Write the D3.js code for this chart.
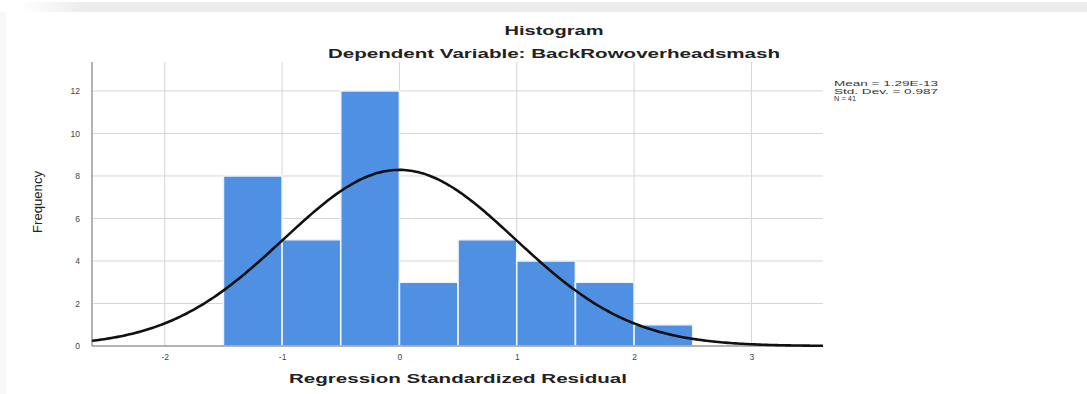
<!DOCTYPE html>
<html><head><meta charset="utf-8">
<script src="https://cdn.jsdelivr.net/npm/d3@7/dist/d3.min.js"></script>
<style>
html,body{margin:0;padding:0;background:#fff;}
svg{display:block;font-family:"Liberation Sans",Arial,sans-serif;}
</style></head>
<body><svg id="c" width="1087" height="394"></svg>
<script>
// ---- data ----
const binStarts = [-1.5, -1.0, -0.5, 0.0, 0.5, 1.0, 1.5, 2.0];
const binWidth = 0.5;
const frequencies = [8, 5, 12, 3, 5, 4, 3, 1];
const xTicks = [-2, -1, 0, 1, 2, 3];
const yTicks = [0, 2, 4, 6, 8, 10, 12];
const statLabels = ["Mean = 1.29E-13", "Std. Dev. = 0.987", "N = 41"];
const stats = {mean: 1.29e-13, sd: 0.987, n: 41};
const titleText = "Histogram";
const subtitleText = "Dependent Variable: BackRowoverheadsmash";
const xLabel = "Regression Standardized Residual";
const yLabel = "Frequency";

const svg = d3.select("#c");
svg.append("rect").attr("x",0).attr("y",0).attr("width",1087).attr("height",394).attr("fill","#fff");
const g0 = svg.append("defs").append("linearGradient").attr("id","bandg");
g0.append("stop").attr("offset","0").attr("stop-color","#fff");
g0.append("stop").attr("offset","0.06").attr("stop-color","#ececec");
g0.append("stop").attr("offset","1").attr("stop-color","#ececec");
svg.append("rect").attr("x",20).attr("y",2).attr("width",1067).attr("height",10).attr("fill","url(#bandg)");
svg.append("rect").attr("x",0).attr("y",12).attr("width",6).attr("height",382).attr("fill","#f7f7f7");

const L = 92, R = 823, T = 62, B = 346;
const x = d3.scaleLinear().domain([-2.62, 3.61]).range([L, R]);
const y = d3.scaleLinear().domain([0, 13.36]).range([B, T]);

// grid
const grid = svg.append("g");
grid.selectAll(".hg").data(yTicks.filter(d=>d>0)).join("line")
  .attr("x1",L).attr("x2",R).attr("y1",d=>y(d)).attr("y2",d=>y(d))
  .attr("stroke","#d6d6d6").attr("stroke-width",1);
grid.selectAll(".vg").data(xTicks).join("line")
  .attr("x1",d=>x(d)).attr("x2",d=>x(d)).attr("y1",T).attr("y2",B)
  .attr("stroke","#d6d6d6").attr("stroke-width",1);

// bars
svg.append("g").selectAll("rect").data(frequencies).join("rect")
  .attr("x",(d,i)=>x(binStarts[i]))
  .attr("width",(d,i)=>x(binStarts[i]+binWidth)-x(binStarts[i]))
  .attr("y",d=>y(d)).attr("height",d=>y(0)-y(d))
  .attr("fill","#4f90e3").attr("stroke","#eef4fb").attr("stroke-width",1.6);

// axes
const xa = svg.append("g").attr("transform",`translate(0,${B})`)
  .call(d3.axisBottom(x).tickValues(xTicks).tickSize(0).tickPadding(8).tickFormat(d=>String(d)));
const ya = svg.append("g").attr("transform",`translate(${L},0)`)
  .call(d3.axisLeft(y).tickValues(yTicks).tickSize(0).tickPadding(12).tickFormat(d=>String(d)));
[xa, ya].forEach(a=>{
  a.select(".domain").attr("stroke","#9a9a9a").attr("stroke-width",1.5);
  a.selectAll("text").attr("font-size",8.5).attr("fill","#444");
});
xa.select(".domain").attr("d",`M${L},0H${R}`);
ya.select(".domain").attr("d",`M0,${B}V${T}`);

// normal curve
const pdf = v => stats.n*binWidth/(stats.sd*Math.sqrt(2*Math.PI))*Math.exp(-0.5*((v-stats.mean)/stats.sd)**2);
const xs = d3.range(0, 301).map(i => x.domain()[0] + (x.domain()[1]-x.domain()[0])*i/300);
svg.append("path").datum(xs)
  .attr("d", d3.line().x(d=>x(d)).y(d=>y(pdf(d))).curve(d3.curveBasis))
  .attr("fill","none").attr("stroke","#111").attr("stroke-width",2.6);

// titles
svg.append("text").attr("x",554).attr("y",35).attr("text-anchor","middle")
  .attr("font-size",12).attr("font-weight","bold").attr("fill","#222")
  .attr("textLength",99).attr("lengthAdjust","spacingAndGlyphs").text(titleText);
svg.append("text").attr("x",554).attr("y",58).attr("text-anchor","middle")
  .attr("font-size",12).attr("font-weight","bold").attr("fill","#222")
  .attr("textLength",452).attr("lengthAdjust","spacingAndGlyphs").text(subtitleText);
svg.append("text").attr("x",458).attr("y",383).attr("text-anchor","middle")
  .attr("font-size",12).attr("font-weight","bold").attr("fill","#222")
  .attr("textLength",338).attr("lengthAdjust","spacingAndGlyphs").text(xLabel);
svg.append("text").attr("transform","translate(42,202) rotate(-90)").attr("text-anchor","middle")
  .attr("font-size",13).attr("fill","#222")
  .attr("textLength",62).attr("lengthAdjust","spacingAndGlyphs").text(yLabel);

// stats legend
const legW = [104, 104, 22];
svg.append("g").selectAll("text").data(statLabels).join("text")
  .attr("x",834).attr("y",(d,i)=>86+i*7.6)
  .attr("font-size",7).attr("fill","#333")
  .attr("textLength",(d,i)=>legW[i]).attr("lengthAdjust","spacingAndGlyphs").text(d=>d);
</script></body></html>
